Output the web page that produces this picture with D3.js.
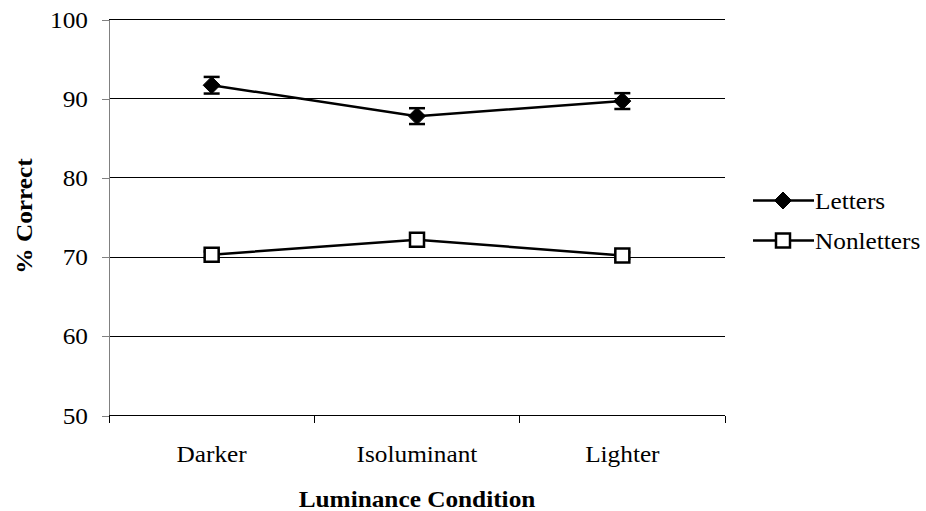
<!DOCTYPE html>
<html>
<head>
<meta charset="utf-8">
<script src="https://cdn.jsdelivr.net/npm/d3@7"></script>
<style>
  html, body { margin: 0; padding: 0; background: #fff; }
  svg { display: block; }
</style>
</head>
<body>
<svg id="chart" width="926" height="511"></svg>
<script>
// Percent correct by luminance condition
const categories = ["Darker", "Isoluminant", "Lighter"];
const lettersValues = [91.7, 87.8, 89.7];
const lettersErrors = [1.05, 1.0, 1.0];
const nonlettersValues = [70.3, 72.2, 70.2];
const nonlettersErrors = [0.4, 0.4, 0.4];
const yTicks = [50, 60, 70, 80, 90, 100];
const seriesNames = ["Letters", "Nonletters"];

const FONT = "Liberation Serif";
const FONT_SIZE = 23;
const STRETCH = 1.1;

const svg = d3.select("#chart");
const margin = { left: 109, right: 926 - 725, top: 19.5, bottom: 511 - 415.5 };
const width = 926 - margin.left - margin.right;
const height = 511 - margin.top - margin.bottom;

// Text helper: positioned via transform, slightly widened glyphs
function label(parent, str, px, py, anchor, opts = {}) {
  const rot = opts.rotate ? ` rotate(${opts.rotate})` : "";
  return parent.append("text")
    .attr("transform", `translate(${px},${py})${rot} scale(${STRETCH},1)`)
    .attr("text-anchor", anchor)
    .style("font-family", FONT)
    .style("font-size", FONT_SIZE + "px")
    .style("font-weight", opts.bold ? "bold" : "normal")
    .attr("fill", "#000")
    .text(str);
}

const g = svg.append("g").attr("transform", `translate(${margin.left},${margin.top})`);

const x = d3.scaleBand().domain(categories).range([0, width]).padding(0);
const y = d3.scaleLinear().domain([50, 100]).range([height, 0]);
const cx = d => x(d) + x.bandwidth() / 2;

// Horizontal gridlines
g.append("g")
  .selectAll("line")
  .data(yTicks.filter(t => t > 50))
  .join("line")
  .attr("x1", 0).attr("x2", width)
  .attr("y1", d => y(d)).attr("y2", d => y(d))
  .attr("stroke", "#000").attr("stroke-width", 1)
  .attr("shape-rendering", "crispEdges");

// Y axis (ticks and domain from d3.axisLeft, labels drawn alongside)
const yAxis = g.append("g")
  .call(d3.axisLeft(y).tickValues(yTicks).tickSize(7).tickFormat(""));
yAxis.select(".domain").attr("stroke", "#808080").attr("shape-rendering", "crispEdges");
yAxis.selectAll(".tick line").attr("stroke", "#808080").attr("shape-rendering", "crispEdges");
yTicks.forEach(t => label(g, d3.format("d")(t), -21, y(t) + 8, "end"));

// X axis with ticks between categories
const xAxisG = g.append("g").attr("transform", `translate(0,${height})`);
xAxisG.append("line")
  .attr("x1", 0).attr("x2", width).attr("y1", 0).attr("y2", 0)
  .attr("stroke", "#000").attr("stroke-width", 1).attr("shape-rendering", "crispEdges");
const boundaries = categories.map(c => x(c)).concat([width]);
xAxisG.selectAll("line.tk")
  .data(boundaries)
  .join("line")
  .attr("class", "tk")
  .attr("x1", d => d).attr("x2", d => d)
  .attr("y1", 0).attr("y2", 7)
  .attr("stroke", "#000").attr("shape-rendering", "crispEdges");
categories.forEach(c => label(xAxisG, c, cx(c), 46, "middle"));

// Axis titles
label(svg, "Luminance Condition", margin.left + width / 2, 507, "middle", { bold: true });
label(svg, "% Correct", 32, 216, "middle", { bold: true, rotate: -90 });

const line = d3.line().x((d, i) => cx(categories[i])).y(d => y(d));

function markerPath(type) {
  if (type === "diamond") return "M0,-8.5L8.5,0L0,8.5L-8.5,0Z";
  return "M-7,-7H7V7H-7Z";
}

function drawSeries(values, errors, symbolType, fill) {
  const s = g.append("g");
  s.append("path")
    .datum(values)
    .attr("d", line)
    .attr("fill", "none")
    .attr("stroke", "#000")
    .attr("stroke-width", 2.5);
  // Error bars
  const capW = 8;
  const eb = s.selectAll("g.eb").data(values).join("g").attr("class", "eb");
  eb.append("line")
    .attr("x1", (d, i) => cx(categories[i])).attr("x2", (d, i) => cx(categories[i]))
    .attr("y1", (d, i) => y(d + errors[i])).attr("y2", (d, i) => y(d - errors[i]))
    .attr("stroke", "#000").attr("stroke-width", 2);
  [1, -1].forEach(sign => {
    eb.append("line")
      .attr("x1", (d, i) => cx(categories[i]) - capW).attr("x2", (d, i) => cx(categories[i]) + capW)
      .attr("y1", (d, i) => y(d + sign * errors[i])).attr("y2", (d, i) => y(d + sign * errors[i]))
      .attr("stroke", "#000").attr("stroke-width", 2.5);
  });
  // Markers
  s.selectAll("path.mk").data(values).join("path")
    .attr("class", "mk")
    .attr("transform", (d, i) => `translate(${cx(categories[i])},${y(d)})`)
    .attr("d", markerPath(symbolType))
    .attr("fill", fill)
    .attr("stroke", "#000")
    .attr("stroke-width", symbolType === "square" ? 2.5 : 1);
}

drawSeries(lettersValues, lettersErrors, "diamond", "#000");
drawSeries(nonlettersValues, nonlettersErrors, "square", "#fff");

// Legend
const legendY = [200.5, 240.5];
const legendTypes = ["diamond", "square"];
const legendFills = ["#000", "#fff"];
seriesNames.forEach((name, i) => {
  const lg = svg.append("g").attr("transform", `translate(0,${legendY[i]})`);
  lg.append("line").attr("x1", 753).attr("x2", 814).attr("y1", 0).attr("y2", 0)
    .attr("stroke", "#000").attr("stroke-width", 2.5);
  lg.append("path").attr("transform", "translate(783,0)")
    .attr("d", markerPath(legendTypes[i]))
    .attr("fill", legendFills[i]).attr("stroke", "#000")
    .attr("stroke-width", legendTypes[i] === "square" ? 2.5 : 1);
  label(lg, name, 815, 8, "start");
});
</script>
</body>
</html>
